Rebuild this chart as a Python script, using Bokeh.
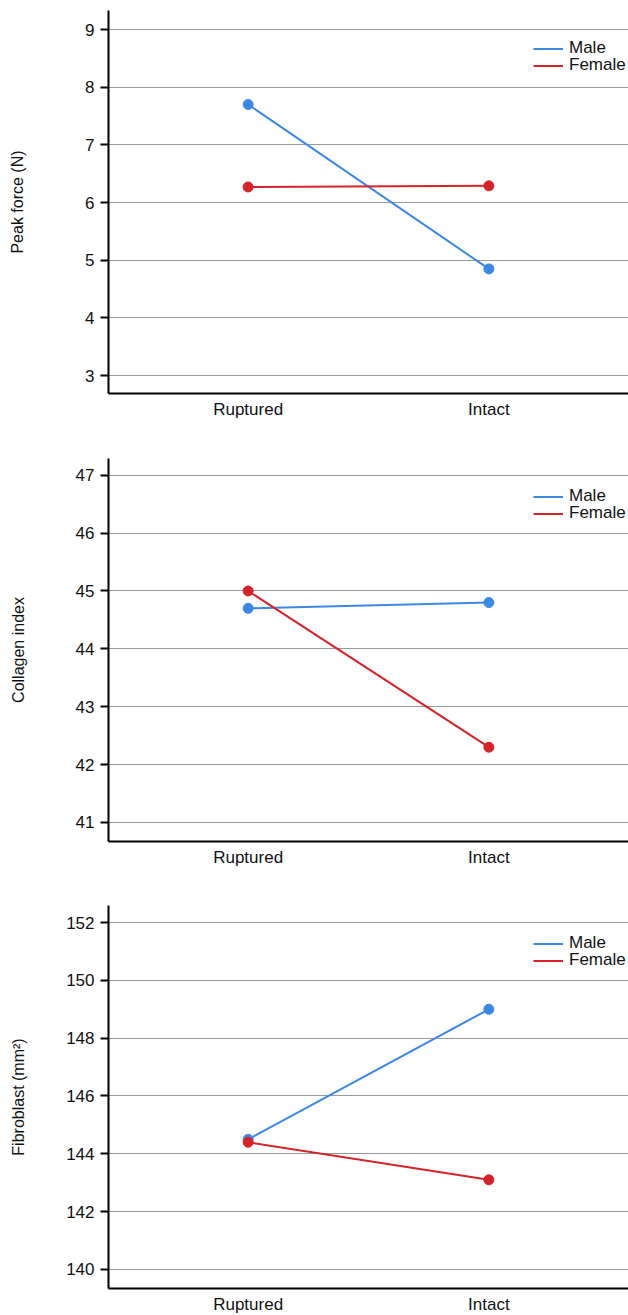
from bokeh.plotting import figure
from bokeh.layouts import column
from bokeh.models import FixedTicker, Range1d, Legend, LegendItem
from bokeh.embed import file_html
from bokeh.resources import INLINE

categories = ["Ruptured", "Intact"]
series_names = ["Male", "Female"]

peak_male = [7.70, 4.85]
peak_female = [6.27, 6.29]
collagen_male = [44.7, 44.8]
collagen_female = [45.0, 42.3]
fibro_male = [144.5, 149.0]
fibro_female = [144.4, 143.1]

peak_ticks = [3, 4, 5, 6, 7, 8, 9]
collagen_ticks = [41, 42, 43, 44, 45, 46, 47]
fibro_ticks = [140, 142, 144, 146, 148, 150, 152]

BLUE = "#3b87e4"
RED = "#d42329"
FONT = "Liberation Sans"

panels = [
    dict(label="Peak force (N)", male=peak_male, female=peak_female, ticks=peak_ticks,
         yr=(2.69, 9.33), top=10, bottom=28, lstand=56),
    dict(label="Collagen index", male=collagen_male, female=collagen_female, ticks=collagen_ticks,
         yr=(40.67, 47.29), top=37, bottom=28, lstand=46),
    dict(label="Fibroblast (mm²)", male=fibro_male, female=fibro_female, ticks=fibro_ticks,
         yr=(139.34, 152.59), top=36, bottom=26, lstand=36),
]

FW, FH = 520, 383
figs = []
for pn in panels:
    p = figure(frame_width=FW, frame_height=FH, output_backend="svg", toolbar_location=None,
               min_border_left=108, min_border_right=0, min_border_top=pn["top"],
               min_border_bottom=pn["bottom"],
               x_range=Range1d(-0.58, 1.58), y_range=Range1d(*pn["yr"]))
    p.outline_line_color = None
    p.xgrid.visible = False
    p.ygrid.grid_line_color = "#333333"
    p.ygrid.grid_line_dash = "1 1"
    p.ygrid.grid_line_width = 1
    p.ygrid.ticker = FixedTicker(ticks=pn["ticks"])

    xs = list(range(len(categories)))
    p.xaxis.ticker = FixedTicker(ticks=xs)
    p.xaxis.major_label_overrides = {i: c for i, c in enumerate(categories)}
    p.yaxis.ticker = FixedTicker(ticks=pn["ticks"])
    for ax in (p.xaxis[0], p.yaxis[0]):
        ax.axis_line_color = "black"
        ax.axis_line_width = 2
        ax.major_label_text_font = FONT
        ax.major_label_text_font_size = "17px"
        ax.major_label_text_color = "#111111"
        ax.minor_tick_line_color = None
        ax.major_tick_in = 0
    p.xaxis.major_tick_line_color = None
    p.xaxis.major_tick_out = 0
    p.xaxis.major_label_standoff = 6
    p.yaxis.major_tick_out = 8
    p.yaxis.major_tick_line_width = 2
    p.yaxis.major_tick_line_color = "black"
    p.yaxis.major_label_standoff = 6
    p.yaxis.axis_label = pn["label"]
    p.yaxis.axis_label_text_font = FONT
    p.yaxis.axis_label_text_font_size = "16px"
    p.yaxis.axis_label_text_font_style = "normal"
    p.yaxis.axis_label_text_color = "#111111"
    p.yaxis.axis_label_standoff = pn["lstand"]

    for k, (name, ys, col) in enumerate((("Male", pn["male"], BLUE), ("Female", pn["female"], RED))):
        r = p.line(xs, ys, line_color=col, line_width=2)
        p.scatter(xs, ys, size=10, fill_color=col, line_color=col)
        leg = Legend(items=[LegendItem(label=name, renderers=[r])],
                     location=(FW - 95, FH - 48 - 17 * k), padding=0, margin=0, spacing=0,
                     glyph_width=30, glyph_height=17, label_height=17, label_standoff=6,
                     label_text_font=FONT, label_text_font_size="17px", label_text_color="#111111",
                     background_fill_alpha=0, border_line_alpha=0)
        p.add_layout(leg, "center")
    figs.append(p)

layout = column(*figs, spacing=0)
open("out.html", "w").write(file_html(layout, INLINE))
